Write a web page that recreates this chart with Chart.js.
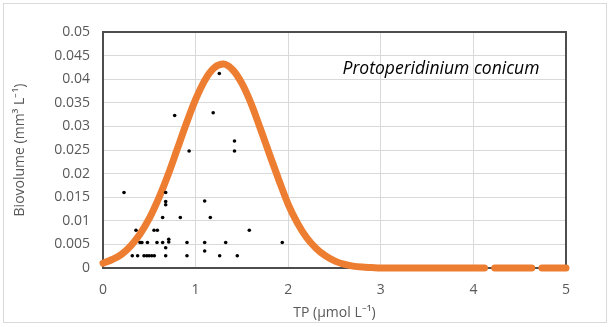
<!DOCTYPE html>
<html>
<head>
<meta charset="utf-8">
<script src="https://cdn.jsdelivr.net/npm/chart.js@4.4.1/dist/chart.umd.min.js"></script>
<style>
  html, body { margin: 0; padding: 0; background: #ffffff; }
  #wrap { position: relative; width: 610px; height: 327px; }
</style>
</head>
<body>
<div id="wrap"><canvas id="c" width="610" height="327"></canvas></div>
<script>
// ---- Data ----
const obsX = [0.227, 0.677, 0.677, 0.677, 1.098, 0.644, 0.835, 1.159, 0.356, 0.551, 0.587, 1.58,
              0.40, 0.42, 0.48, 0.583, 0.644, 0.71, 0.907, 1.098, 1.325, 1.936,
              0.71, 0.677, 1.098,
              0.316, 0.374, 0.443, 0.472, 0.497, 0.526, 0.554, 0.677, 0.907, 1.26, 1.45,
              0.774, 1.19, 1.256, 1.42, 1.42, 0.93];
const obsY = [0.0160, 0.0160, 0.0141, 0.0134, 0.0142, 0.0107, 0.0107, 0.0107, 0.0080, 0.0080, 0.0080, 0.0080,
              0.0054, 0.0054, 0.0054, 0.0054, 0.0054, 0.0055, 0.0054, 0.0054, 0.0054, 0.0054,
              0.0061, 0.0043, 0.0036,
              0.0026, 0.0026, 0.0026, 0.0026, 0.0026, 0.0026, 0.0026, 0.0026, 0.0026, 0.0026, 0.0026,
              0.0323, 0.0329, 0.0412, 0.0269, 0.0248, 0.0248];

const curveX = [0.0, 0.1, 0.2, 0.3, 0.4, 0.5, 0.6, 0.7, 0.8, 0.9, 1.0, 1.1, 1.2, 1.3, 1.4, 1.5, 1.6, 1.7,
                1.8, 1.9, 2.0, 2.1, 2.2, 2.3, 2.4, 2.5, 2.6, 2.7, 2.8, 2.9, 3.0, 3.5, 4.0, 4.12,
                4.17, 4.23, 4.63, 4.69, 4.74, 5.0];
const curveY = [0.0010, 0.0018, 0.0029, 0.0047, 0.0072, 0.0105, 0.0147, 0.0196, 0.0251, 0.0306, 0.0357,
                0.0398, 0.0424, 0.0432, 0.0420, 0.0391, 0.0348, 0.0295, 0.0240, 0.0186, 0.0135, 0.0095,
                0.0064, 0.0042, 0.0026, 0.0015, 0.0008, 0.0004, 0.0002, 0.0001, 0, 0, 0, 0,
                null, 0, 0, null, 0, 0];

const xTickLabels = ['0', '1', '2', '3', '4', '5'];
const yTickLabels = ['0', '0.005', '0.01', '0.015', '0.02', '0.025', '0.03', '0.035', '0.04', '0.045', '0.05'];

const xTitle = 'TP (µmol L⁻¹)';
const yTitle = 'Biovolume (mm³ L⁻¹)';
const speciesLabel = 'Protoperidinium conicum';

// ---- Build chart ----
const obsPoints = obsX.map((x, i) => ({ x: x, y: obsY[i] }));
const curvePoints = curveX.map((x, i) => ({ x: x, y: curveY[i] }));

const FONT = '"Open Sans", "Liberation Sans", sans-serif';
const TXT = '#595959';

const framePlugin = {
  id: 'frame',
  beforeDraw(chart) {
    const ctx = chart.ctx;
    ctx.save();
    ctx.fillStyle = '#ffffff';
    ctx.fillRect(0, 0, chart.width, chart.height);
    ctx.strokeStyle = '#d9d9d9';
    ctx.lineWidth = 1;
    ctx.strokeRect(3.5, 3.5, chart.width - 7, chart.height - 8);
    ctx.restore();
  },
  beforeDatasetsDraw(chart) {
    const a = chart.chartArea;
    const ctx = chart.ctx;
    ctx.save();
    ctx.strokeStyle = '#4d4d4d';
    ctx.lineWidth = 2;
    ctx.strokeRect(a.left, a.top, a.right - a.left, a.bottom - a.top);
    ctx.restore();
  },
  afterDraw(chart) {
    const ctx = chart.ctx;
    const xs = chart.scales.x, ys = chart.scales.y;
    ctx.save();
    ctx.font = 'italic 17.5px ' + FONT;
    ctx.fillStyle = '#000000';
    ctx.textAlign = 'center';
    ctx.textBaseline = 'middle';
    ctx.fillText(speciesLabel, xs.getPixelForValue(3.65), ys.getPixelForValue(0.0422));
    ctx.restore();
  }
};

new Chart(document.getElementById('c'), {
  type: 'scatter',
  data: {
    datasets: [
      {
        label: 'observed',
        data: obsPoints,
        backgroundColor: '#000000',
        borderColor: '#000000',
        pointRadius: 1.8,
        pointBorderWidth: 0,
        order: 1
      },
      {
        label: 'model',
        data: curvePoints,
        showLine: true,
        spanGaps: false,
        borderColor: '#ED7D31',
        backgroundColor: '#ED7D31',
        borderWidth: 7,
        borderCapStyle: 'round',
        borderJoinStyle: 'round',
        cubicInterpolationMode: 'monotone',
        pointRadius: 0,
        clip: false,
        order: 2
      }
    ]
  },
  options: {
    responsive: false,
    animation: false,
    devicePixelRatio: 1,
    layout: { padding: { left: 0, right: 44, top: 32, bottom: 0 } },
    plugins: { legend: { display: false }, tooltip: { enabled: false } },
    scales: {
      x: {
        type: 'linear',
        min: 0, max: 5,
        ticks: {
          stepSize: 1,
          padding: 14,
          color: TXT,
          font: { family: FONT, size: 14 },
          callback: (v) => xTickLabels[Math.round(v)]
        },
        grid: { color: '#d9d9d9', lineWidth: 1, drawTicks: false },
        border: { display: false },
        title: {
          display: true, text: xTitle, color: TXT,
          font: { family: FONT, size: 14 },
          padding: { top: 0, bottom: 6 }
        },
        afterFit: (s) => { s.height = 59; }
      },
      y: {
        type: 'linear',
        min: 0, max: 0.05,
        ticks: {
          stepSize: 0.005,
          padding: 13,
          color: TXT,
          font: { family: FONT, size: 14 },
          callback: (v) => yTickLabels[Math.round(v / 0.005)]
        },
        grid: { color: '#d9d9d9', lineWidth: 1, drawTicks: false },
        border: { display: false },
        title: {
          display: true, text: yTitle, color: TXT,
          font: { family: FONT, size: 14 },
          padding: { top: 12, bottom: 0 }
        },
        afterFit: (s) => { s.width = 103; }
      }
    }
  },
  plugins: [framePlugin]
});
</script>
</body>
</html>
